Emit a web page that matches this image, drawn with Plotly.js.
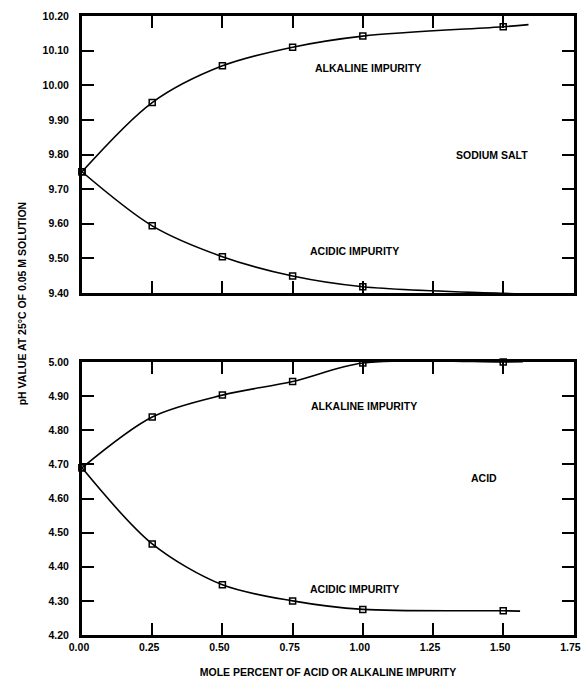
<!DOCTYPE html>
<html>
<head>
<meta charset="utf-8">
<script src="https://cdn.plot.ly/plotly-3.0.1.min.js"></script>
<style>html,body{margin:0;padding:0;background:#fff;}#chart{width:582px;height:678px;}</style>
</head>
<body>
<div id="chart"></div>
<script>
// Mole percent of impurity (x) at measured points
var molePercent = [0.00, 0.25, 0.50, 0.75, 1.00, 1.50];

// Sodium salt (upper panel)
var saltAlkaline = [9.75, 9.95, 10.056, 10.11, 10.142, 10.169];
var saltAcidic   = [9.75, 9.594, 9.505, 9.449, 9.418, 9.399];

// Acid (lower panel)
var acidAlkaline = [4.69, 4.839, 4.903, 4.943, 4.997, 5.000];
var acidAcidic   = [4.69, 4.467, 4.347, 4.300, 4.275, 4.271];

// Where each drawn curve stops beyond the last point
var curveEndX = [1.59, 1.57, 1.57, 1.56];
var curveEndY = [10.175, 9.398, 5.001, 4.270];

var xTicks = [0, 0.25, 0.5, 0.75, 1.0, 1.25, 1.5, 1.75];
var saltTicks = [9.4, 9.5, 9.6, 9.7, 9.8, 9.9, 10.0, 10.1, 10.2];
var acidTicks = [4.2, 4.3, 4.4, 4.5, 4.6, 4.7, 4.8, 4.9, 5.0];

var FONT = {family: 'Liberation Sans, Arial, sans-serif', size: 10.5, color: '#000', weight: 'bold'};

function curveTrace(ys, idx, xa, ya) {
  return {
    x: molePercent.concat([curveEndX[idx]]),
    y: ys.concat([curveEndY[idx]]),
    xaxis: xa, yaxis: ya,
    mode: 'lines', type: 'scatter',
    line: {color: '#000', width: 1.6, shape: 'spline', smoothing: 0.9},
    cliponaxis: false,
    hoverinfo: 'skip', showlegend: false
  };
}
function pointTrace(ys, xa, ya, name) {
  return {
    x: molePercent, y: ys, xaxis: xa, yaxis: ya, name: name,
    mode: 'markers', type: 'scatter',
    marker: {symbol: 'square-open', size: 6, color: '#000', line: {width: 1.5, color: '#000'}},
    cliponaxis: false, showlegend: false
  };
}

var data = [
  curveTrace(saltAlkaline, 0, 'x2', 'y2'),
  curveTrace(saltAcidic, 1, 'x2', 'y2'),
  curveTrace(acidAlkaline, 2, 'x', 'y'),
  curveTrace(acidAcidic, 3, 'x', 'y'),
  pointTrace(saltAlkaline, 'x2', 'y2', 'Sodium salt, alkaline impurity'),
  pointTrace(saltAcidic, 'x2', 'y2', 'Sodium salt, acidic impurity'),
  pointTrace(acidAlkaline, 'x', 'y', 'Acid, alkaline impurity'),
  pointTrace(acidAcidic, 'x', 'y', 'Acid, acidic impurity')
];

var axisCommon = {
  showline: true, linecolor: '#000', linewidth: 3, mirror: 'ticks',
  ticks: 'inside', ticklen: 12, tickwidth: 2, tickcolor: '#000',
  showgrid: false, zeroline: false, tickfont: FONT, fixedrange: true,
  ticklabeloverflow: 'allow'
};

var layout = {
  width: 582, height: 678,
  margin: {l: 82, r: 8, t: 16, b: 43},
  paper_bgcolor: '#fff', plot_bgcolor: '#fff',
  showlegend: false,
  font: FONT,
  xaxis: Object.assign({}, axisCommon, {
    anchor: 'y', domain: [0, 1], range: [0, 1.752],
    tickvals: xTicks, tickformat: '.2f', ticklabelshift: -3,
    title: {text: 'MOLE PERCENT OF ACID OR ALKALINE IMPURITY', font: FONT, standoff: 22}
  }),
  xaxis2: Object.assign({}, axisCommon, {
    anchor: 'y2', domain: [0, 1], range: [0, 1.752],
    tickvals: xTicks, showticklabels: false, matches: 'x'
  }),
  yaxis: Object.assign({}, axisCommon, {
    anchor: 'x', domain: [0, 0.441], range: [4.2, 5.0],
    tickvals: acidTicks, tickformat: '.2f', ticklabelstandoff: 8
  }),
  yaxis2: Object.assign({}, axisCommon, {
    anchor: 'x2', domain: [0.5525, 1], range: [9.4, 10.2],
    tickvals: saltTicks, tickformat: '.2f', ticklabelstandoff: 8
  }),
  annotations: [
    {text: 'pH VALUE AT 25°C OF 0.05 M SOLUTION', xref: 'paper', yref: 'paper',
     x: -0.138, y: 0.536, textangle: -90, showarrow: false, font: FONT},
    {text: 'ALKALINE IMPURITY', xref: 'x2', yref: 'y2', x: 1.02, y: 10.049, showarrow: false, font: FONT},
    {text: 'SODIUM SALT', xref: 'x2', yref: 'y2', x: 1.46, y: 9.80, showarrow: false, font: FONT},
    {text: 'ACIDIC IMPURITY', xref: 'x2', yref: 'y2', x: 0.97, y: 9.52, showarrow: false, font: FONT},
    {text: 'ALKALINE IMPURITY', xref: 'x', yref: 'y', x: 1.004, y: 4.87, showarrow: false, font: FONT},
    {text: 'ACID', xref: 'x', yref: 'y', x: 1.43, y: 4.66, showarrow: false, font: FONT},
    {text: 'ACIDIC IMPURITY', xref: 'x', yref: 'y', x: 0.97, y: 4.335, showarrow: false, font: FONT}
  ]
};

Plotly.newPlot('chart', data, layout, {displayModeBar: false, staticPlot: true});
</script>
</body>
</html>
